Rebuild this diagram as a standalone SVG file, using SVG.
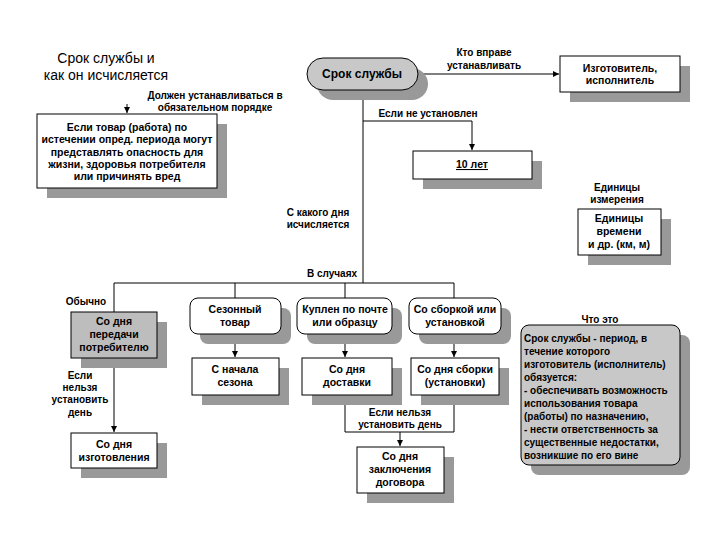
<svg xmlns="http://www.w3.org/2000/svg" width="720" height="540" viewBox="0 0 720 540">
<style>
text{font-family:"Liberation Sans",Arial,sans-serif;fill:#000}
.t{font-size:14px}
.lb{font-size:10px;font-weight:bold}
.bx{font-size:10.5px;font-weight:bold}
.c{text-anchor:middle}
.sh{fill:#999;stroke:none}
.w{fill:#fff;stroke:#000;stroke-width:1}
.g{fill:#c8c8c8;stroke:#000;stroke-width:1}
.ln{fill:none;stroke:#000;stroke-width:1}
</style>
<defs>
<marker id="ar" viewBox="0 0 10 10" refX="10" refY="5" markerWidth="6" markerHeight="6" orient="auto" markerUnits="userSpaceOnUse">
<path d="M0,0 L10,5 L0,10 z" fill="#000"/>
</marker>
</defs>
<rect width="720" height="540" fill="#fff"/>

<g id="title">
<text class="t c" x="106" y="63">Срок службы и</text>
<text class="t c" x="106" y="80">как он исчисляется</text>
</g>

<g id="connectors">
<path class="ln" d="M418,74 H559" marker-end="url(#ar)"/>
<path class="ln" d="M363,90 V283"/>
<path class="ln" d="M363,121 H472 V150" marker-end="url(#ar)"/>
<path class="ln" d="M127,104 V113" marker-end="url(#ar)"/>
<path class="ln" d="M114,312 V283 H454 V298"/>
<path class="ln" d="M235,283 V298"/>
<path class="ln" d="M345,283 V298"/>
<path class="ln" d="M114,358 V432" marker-end="url(#ar)"/>
<path class="ln" d="M235,334 V357" marker-end="url(#ar)"/>
<path class="ln" d="M345,334 V357" marker-end="url(#ar)"/>
<path class="ln" d="M454,334 V357" marker-end="url(#ar)"/>
<path class="ln" d="M345,395 V432 H454 V395"/>
<path class="ln" d="M400,432 V446" marker-end="url(#ar)"/>
</g>

<g id="labels">
<text class="lb c" x="484" y="56">Кто вправе</text>
<text class="lb c" x="484" y="69">устанавливать</text>
<text class="lb c" x="215" y="99">Должен устанавливаться в</text>
<text class="lb c" x="215" y="111">обязательном порядке</text>
<text class="lb c" x="428" y="117">Если не установлен</text>
<text class="lb c" x="318" y="216">С какого дня</text>
<text class="lb c" x="318" y="228">исчисляется</text>
<text class="lb c" x="332" y="277">В случаях</text>
<text class="lb c" x="617" y="191">Единицы</text>
<text class="lb c" x="617" y="203">измерения</text>
<text class="lb c" x="86" y="305">Обычно</text>
<text class="lb c" x="80" y="379">Если</text>
<text class="lb c" x="80" y="391">нельзя</text>
<text class="lb c" x="80" y="403">установить</text>
<text class="lb c" x="80" y="416">день</text>
<text class="lb c" x="400" y="416">Если нельзя</text>
<text class="lb c" x="400" y="428">установить день</text>
<text class="lb c" x="600" y="323">Что это</text>
</g>

<g id="n-srok">
<rect class="sh" x="317" y="68" width="111" height="32" rx="16"/>
<rect class="g" x="307" y="58" width="111" height="32" rx="16"/>
<text class="c" x="362" y="78" style="font-size:12px;font-weight:bold">Срок службы</text>
</g>

<g id="n-izgot">
<rect class="sh" x="570" y="66" width="120" height="36"/>
<rect class="w" x="560" y="56" width="120" height="36"/>
<text class="bx c" x="620" y="72">Изготовитель,</text>
<text class="bx c" x="620" y="84">исполнитель</text>
</g>

<g id="n-esli">
<rect class="sh" x="47" y="124" width="180" height="74"/>
<rect class="w" x="37" y="114" width="180" height="74"/>
<text class="bx c" x="127" y="131">Если товар (работа) по</text>
<text class="bx c" x="127" y="143">истечении опред. периода могут</text>
<text class="bx c" x="127" y="156">представлять опасность для</text>
<text class="bx c" x="127" y="168">жизни, здоровья потребителя</text>
<text class="bx c" x="127" y="180">или причинять вред</text>
</g>

<g id="n-10">
<rect class="sh" x="423" y="161" width="119" height="28"/>
<rect class="w" x="413" y="151" width="119" height="28"/>
<text class="bx c" x="472" y="168" text-decoration="underline">10 лет</text>
</g>

<g id="n-edin">
<rect class="sh" x="588" y="219" width="83" height="46"/>
<rect class="w" x="578" y="209" width="83" height="46"/>
<text class="bx c" x="619" y="222">Единицы</text>
<text class="bx c" x="619" y="235">времени</text>
<text class="bx c" x="619" y="248">и др. (км, м)</text>
</g>

<g id="n-peredachi">
<rect class="sh" x="81" y="322" width="86" height="46"/>
<rect class="g" x="71" y="312" width="86" height="46" style="fill:#bdbdbd"/>
<text class="bx c" x="114" y="325">Со дня</text>
<text class="bx c" x="114" y="338">передачи</text>
<text class="bx c" x="114" y="351">потребителю</text>
</g>

<g id="n-izgotovl">
<rect class="sh" x="81" y="443" width="86" height="35"/>
<rect class="w" x="71" y="433" width="86" height="35"/>
<text class="bx c" x="114" y="448">Со дня</text>
<text class="bx c" x="114" y="461">изготовления</text>
</g>

<g id="n-sezon">
<rect class="sh" x="200" y="308" width="91" height="36" rx="8"/>
<rect class="w" x="190" y="298" width="91" height="36" rx="8"/>
<text class="bx c" x="235" y="313">Сезонный</text>
<text class="bx c" x="235" y="326">товар</text>
</g>

<g id="n-nachala">
<rect class="sh" x="202" y="368" width="87" height="37"/>
<rect class="w" x="192" y="358" width="87" height="37"/>
<text class="bx c" x="235" y="373">С начала</text>
<text class="bx c" x="235" y="386">сезона</text>
</g>

<g id="n-pochta">
<rect class="sh" x="307" y="308" width="95" height="36" rx="8"/>
<rect class="w" x="297" y="298" width="95" height="36" rx="8"/>
<text class="bx c" x="345" y="313">Куплен по почте</text>
<text class="bx c" x="345" y="326">или образцу</text>
</g>

<g id="n-dostavki">
<rect class="sh" x="312" y="368" width="90" height="37"/>
<rect class="w" x="302" y="358" width="90" height="37"/>
<text class="bx c" x="347" y="373">Со дня</text>
<text class="bx c" x="347" y="386">доставки</text>
</g>

<g id="n-sborka">
<rect class="sh" x="419" y="308" width="92" height="36" rx="8"/>
<rect class="w" x="409" y="298" width="92" height="36" rx="8"/>
<text class="bx c" x="455" y="313">Со сборкой или</text>
<text class="bx c" x="455" y="326">установкой</text>
</g>

<g id="n-sborki">
<rect class="sh" x="421" y="368" width="88" height="37"/>
<rect class="w" x="411" y="358" width="88" height="37"/>
<text class="bx c" x="455" y="373">Со дня  сборки</text>
<text class="bx c" x="455" y="386">(установки)</text>
</g>

<g id="n-dogovora">
<rect class="sh" x="367" y="457" width="87" height="46"/>
<rect class="w" x="357" y="447" width="87" height="46"/>
<text class="bx c" x="400" y="460">Со дня</text>
<text class="bx c" x="400" y="473">заключения</text>
<text class="bx c" x="400" y="486">договора</text>
</g>

<g id="n-chto">
<rect class="sh" x="531" y="335" width="159" height="140" rx="8"/>
<rect class="g" x="521" y="325" width="159" height="140" rx="8"/>
<g class="bx" style="font-size:10px">
<text x="524" y="342">Срок службы - период, в</text>
<text x="524" y="355">течение которого</text>
<text x="524" y="368">изготовитель (исполнитель)</text>
<text x="524" y="381">обязуется:</text>
<text x="524" y="394">- обеспечивать возможность</text>
<text x="524" y="407">использования товара</text>
<text x="524" y="420">(работы) по назначению,</text>
<text x="524" y="433">- нести ответственность за</text>
<text x="524" y="446">существенные недостатки,</text>
<text x="524" y="459">возникшие по его вине</text>
</g>
</g>
</svg>
